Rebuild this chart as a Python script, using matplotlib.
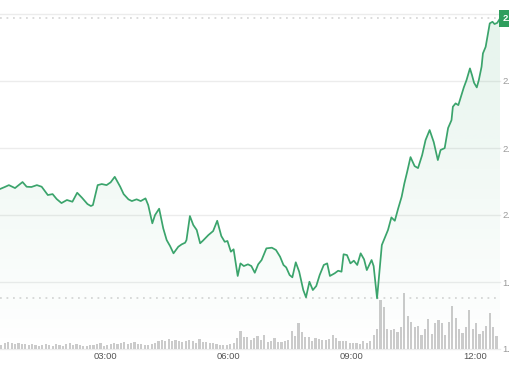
import matplotlib
matplotlib.use("Agg")
import matplotlib.pyplot as plt
import numpy as np
from matplotlib.patches import Polygon

plt.rcParams['font.family'] = ['Liberation Sans', 'DejaVu Sans']

# ---- data (minutes since 00:00, price) ----
price_minutes = [25, 32, 38, 47, 58, 64, 71, 79, 86, 95, 102, 108, 115, 123, 131, 138, 145, 153, 158, 161,
                 168, 174, 181, 187, 193, 201, 206, 213, 218, 225, 231, 238, 242, 248, 252, 258, 264, 269, 274, 279,
                 286, 291, 296, 298, 303, 308, 313, 318, 322, 330, 337, 343, 349, 354, 358, 363, 367, 373, 377, 382,
                 388, 393, 398, 403, 408, 415, 423, 429, 435, 440, 444, 449, 453, 458, 463, 469, 473, 478, 483, 488,
                 493, 499, 504, 508, 515, 520, 525, 528, 533, 538, 543, 548, 553, 558, 562, 569, 572, 577, 584, 588,
                 593, 598, 603, 608, 613, 617, 621, 626, 632, 637, 643, 648, 654, 660, 666, 670, 676, 681, 686, 688,
                 692, 696, 699, 704, 708, 713, 716, 719, 723, 726, 730, 732, 736, 739, 742, 746, 749, 753, 757]
prices = [2.0194, 2.0209, 2.0223, 2.0201, 2.0246, 2.0211, 2.0209, 2.0223, 2.0211, 2.0149, 2.0156, 2.0119,
          2.0089, 2.0112, 2.0099, 2.0166, 2.0129, 2.0082, 2.0067, 2.0074, 2.0223, 2.0231, 2.0223, 2.0244,
          2.0285, 2.0211, 2.0156, 2.0117, 2.0104, 2.0117, 2.0104, 2.0124, 2.0074, 1.9938, 2.0000, 2.0047,
          1.9900, 1.9813, 1.9768, 1.9714, 1.9763, 1.9781, 1.9793, 1.9813, 1.9992, 1.9925, 1.9888, 1.9789,
          1.9808, 1.9850, 1.9880, 1.9957, 1.9843, 1.9800, 1.9806, 1.9726, 1.9744, 1.9545, 1.9639, 1.9619,
          1.9632, 1.9619, 1.9569, 1.9632, 1.9664, 1.9751, 1.9756, 1.9739, 1.9689, 1.9627, 1.9609, 1.9552,
          1.9535, 1.9647, 1.9577, 1.9440, 1.9386, 1.9502, 1.9440, 1.9470, 1.9552, 1.9627, 1.9639, 1.9545,
          1.9565, 1.9584, 1.9577, 1.9707, 1.9701, 1.9639, 1.9659, 1.9627, 1.9714, 1.9669, 1.9589, 1.9664,
          1.9619, 1.9378, 1.9776, 1.9826, 1.9888, 1.9982, 1.9957, 2.0050, 2.0136, 2.0236, 2.0320, 2.0432,
          2.0365, 2.0350, 2.0447, 2.0559, 2.0634, 2.0544, 2.0410, 2.0485, 2.0499, 2.0649, 2.0708, 2.0808,
          2.0833, 2.0820, 2.0870, 2.0952, 2.1007, 2.1094, 2.1044, 2.0987, 2.0952, 2.1007, 2.1106, 2.1206,
          2.1255, 2.1342, 2.1430, 2.1442, 2.1425, 2.1434, 2.1467]

# volume per 5-minute bar (arbitrary units)
volume_start_min = 27
volume_step_min = 5
volumes = [4, 6, 7, 6, 5, 6, 5, 5, 4, 5, 4, 3, 4, 5, 4, 3, 5, 4, 3, 5, 6, 4, 5, 4, 3, 3, 4, 4, 5, 6,
           3, 4, 5, 6, 5, 6, 7, 5, 6, 7, 5, 5, 4, 4, 5, 6, 8, 9, 8, 10,
           8, 9, 8, 7, 8, 9, 8, 6, 10, 7, 7, 6, 6, 5, 4, 4, 4, 5, 6, 11, 18, 12, 12, 9, 11, 13, 9, 14, 7, 8,
           11, 7, 7, 8, 9, 18, 13, 26, 17, 12, 12, 8, 11, 10, 9, 9, 10, 14, 11, 8,
           8, 8, 6, 6, 6, 5, 8, 6, 8,
           14, 20, 49, 42, 20, 19, 20, 17, 22, 56, 33, 27, 22, 23, 14, 20, 30, 15, 26, 29, 26, 14, 27, 43,
           31, 20, 16, 22, 39, 20, 26, 15, 18, 23, 36, 22, 13]

x_ticks = [180, 360, 540, 720]
x_labels = ['03:00', '06:00', '09:00', '12:00']
y_ticks = [1.90, 1.95, 2.00, 2.05, 2.10, 2.15]
y_labels = ['1.90', '1.95', '2.00', '2.05', '2.10', '']

line_color = '#3ba46c'
grid_color = '#ececec'

W, H = 510, 369
fig = plt.figure(figsize=(W / 100, H / 100), dpi=100)
fig.patch.set_facecolor('white')
ax = fig.add_axes([0, (H - 349) / H, 500 / W, 335 / H])
ax2 = ax.twinx()

xmin, xmax = 25, 757
ymin, ymax = 1.90, 2.15

# volume bars on bottom axes
vt = volume_start_min + volume_step_min * np.arange(len(volumes))
ax.bar(vt, volumes, width=3.2, color='#cbcbcb', zorder=2)
ax.set_ylim(0, 335)
ax.set_xlim(xmin, xmax)

# gridlines drawn in bottom axes (behind bars)
for t in y_ticks:
    f = (t - ymin) / (ymax - ymin)
    ax.plot([0, 1], [f, f], transform=ax.transAxes, color=grid_color, lw=1.0, zorder=1, clip_on=False)
for v in (min(prices), max(prices)):
    f = (v - ymin) / (ymax - ymin)
    ax.plot([0, 1], [f, f], transform=ax.transAxes, color='#d9d9d9', lw=1.3,
            linestyle=(0, (1.0, 2.6)), zorder=1, clip_on=False)

# gradient fill under line
pts = np.column_stack([price_minutes, prices])
poly = np.vstack([pts, [[price_minutes[-1], ymin], [price_minutes[0], ymin]]])
patch = Polygon(poly, closed=True, facecolor='none', edgecolor='none')
ax2.add_patch(patch)
grad = np.zeros((256, 1, 4))
rgb = np.array([61, 168, 111]) / 255.0
grad[:, 0, :3] = rgb
grad[:, 0, 3] = np.linspace(0.13, 0.0, 256)
top = max(prices)
im = ax2.imshow(grad, extent=[xmin, xmax, ymin, top], aspect='auto', origin='upper',
                interpolation='bilinear', zorder=1)
im.set_clip_path(patch)

ax2.plot(price_minutes, prices, color=line_color, lw=1.25, zorder=3, clip_on=False,
         solid_joinstyle='round')
ax2.set_xlim(xmin, xmax)
ax2.set_ylim(ymin, ymax)

for a in (ax, ax2):
    for s in a.spines.values():
        s.set_visible(False)
    a.patch.set_visible(False)

ax.set_yticks([])
ax.set_xticks(x_ticks)
ax.set_xticklabels(x_labels)
ax.tick_params(axis='x', length=0, pad=2.2, labelsize=6.8, colors='#555555')

ax2.set_yticks(y_ticks)
ax2.set_yticklabels(y_labels)
ax2.tick_params(axis='y', length=0, pad=1.5, labelsize=6.8, colors='#9a9a9a')

# current price label
fig.text(503 / W, 1 - 18.5 / H, f"{prices[-1]:.3f}", color='white', fontsize=6.8,
         fontweight='bold', ha='left', va='center',
         bbox=dict(boxstyle='square,pad=0.45', facecolor='#2f9e5d', edgecolor='none'))

fig.savefig('out.png', dpi=100, facecolor='white')
